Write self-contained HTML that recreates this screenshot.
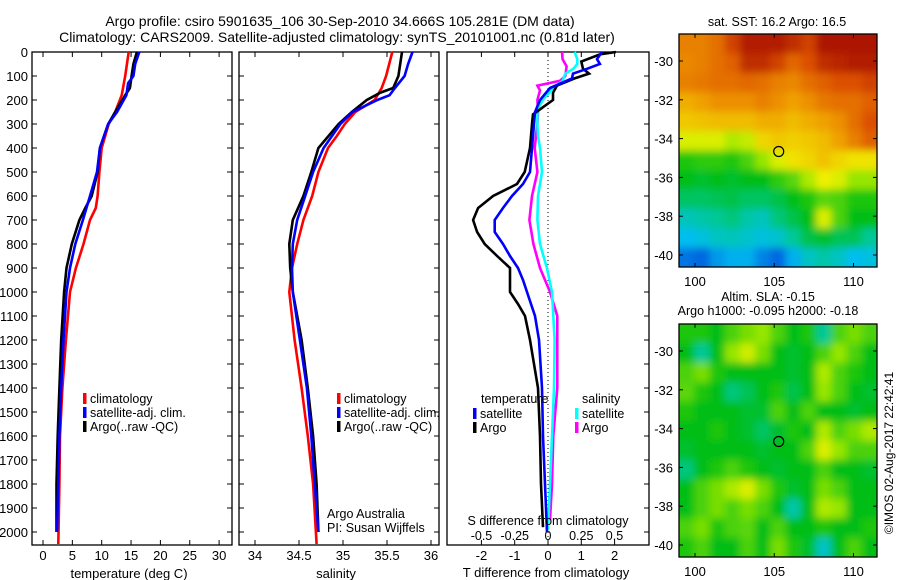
<!DOCTYPE html>
<html><head><meta charset="utf-8"><style>
html,body{margin:0;padding:0;background:#fff}
svg{display:block;font-family:"Liberation Sans",sans-serif}
text{fill:#000}
</style></head><body>
<svg id="chart" width="900" height="580" viewBox="0 0 900 580">
<text x="340" y="26" font-size="14" text-anchor="middle">Argo profile: csiro 5901635_106 30-Sep-2010 34.666S 105.281E (DM data)</text>
<text x="337" y="42" font-size="14" text-anchor="middle">Climatology: CARS2009. Satellite-adjusted climatology: synTS_20101001.nc (0.81d later)</text>
<g id="g1"></g>
<g id="g2"></g>
<g id="g3"></g>
<g id="g4"></g>
<g id="g5"></g>
<text x="12" y="0" font-size="12" transform="translate(893,465) rotate(-90)" text-anchor="middle">©IMOS 02-Aug-2017 22:42:41</text>
</svg>
<script>
// ---------- data ----------
const depthTicks=[0,100,200,300,400,500,600,700,800,900,1000,1100,1200,1300,1400,1500,1600,1700,1800,1900,2000];
const tempTicks=[0,5,10,15,20,25,30];
const salTicks=[34,34.5,35,35.5,36];
const tdiffTicks=[-2,-1,0,1,2];
const sdiffTicks=[-0.5,-0.25,0,0.25,0.5];
const sdiffLabels=["-0.5","-0.25","0","0.25","0.5"];
const tClimDepth=[0,100,180,250,300,400,500,600,650,700,800,900,1000,1200,1400,1600,1800,2050];
const tClim=[14.6,14.0,13.4,12.3,11.2,10.0,9.6,9.3,9.0,8.0,6.9,5.6,4.6,3.9,3.3,2.9,2.8,2.6];
const tSatDepth=[0,50,100,130,180,250,300,350,400,500,600,700,800,900,1000,1200,1400,1600,1800,2000];
const tSat=[16.4,15.7,15.4,14.5,14.2,12.6,11.1,10.4,9.7,9.2,8.0,6.8,5.5,4.6,4.0,3.5,3.1,2.8,2.6,2.4];
const tArgoDepth=[0,50,100,150,180,250,300,400,500,600,650,700,800,900,1000,1200,1400,1600,1800,2000];
const tArgo=[16.0,15.4,15.1,14.8,14.0,12.3,11.1,9.7,9.3,8.3,7.2,6.2,4.9,4.0,3.6,3.1,2.8,2.5,2.3,2.3];
const sClimDepth=[0,100,150,200,250,300,350,400,500,600,700,800,900,1000,1200,1400,1600,1800,2050];
const sClim=[35.56,35.49,35.44,35.36,35.14,35.02,34.93,34.83,34.72,34.65,34.55,34.48,34.42,34.39,34.45,34.53,34.60,34.66,34.70];
const sSatDepth=[0,50,100,150,180,200,250,300,400,500,600,700,800,900,1000,1200,1400,1600,1800,2000];
const sSat=[35.79,35.74,35.70,35.59,35.53,35.39,35.11,34.97,34.78,34.66,34.57,34.48,34.43,34.42,34.43,34.51,34.59,34.64,34.68,34.72];
const sArgoDepth=[0,100,150,170,200,250,300,400,500,600,700,800,900,1000,1200,1400,1600,1800,2000];
const sArgo=[35.67,35.63,35.57,35.42,35.27,35.10,34.95,34.72,34.64,34.55,34.43,34.39,34.40,34.43,34.53,34.60,34.66,34.70,34.72];
const dTArgoDepth=[0,10,40,70,90,110,140,170,200,230,260,300,400,500,550,600,650,700,750,800,850,900,1000,1050,1100,1200,1300,1400,1600,1800,1980];
const dTArgo=[2.04,1.56,1.0,1.05,1.23,0.8,0.27,0.15,0.15,-0.15,-0.45,-0.48,-0.54,-0.7,-0.93,-1.65,-2.1,-2.25,-2.13,-1.9,-1.53,-1.14,-1.14,-0.9,-0.69,-0.54,-0.42,-0.3,-0.24,-0.21,-0.15];
const dTSatDepth=[0,30,50,70,90,110,150,200,250,350,500,550,600,650,700,750,800,850,900,950,1000,1100,1200,1400,1600,1800,2000];
const dTSat=[1.62,1.47,1.56,1.17,0.75,0.72,0.06,-0.24,-0.39,-0.45,-0.54,-0.75,-1.08,-1.35,-1.6,-1.6,-1.35,-1.14,-0.9,-0.75,-0.63,-0.39,-0.27,-0.18,-0.15,-0.09,-0.03];
const dSArgoDepth=[0,30,60,100,120,140,160,200,250,300,350,400,500,600,700,800,900,1000,1100,1200,1400,1600,1800,1950];
const dSArgo=[0.105,0.11,0.14,0.13,0.09,-0.08,-0.06,-0.08,-0.075,-0.08,-0.09,-0.1,-0.08,-0.12,-0.14,-0.11,-0.06,0.015,0.07,0.07,0.07,0.04,0.03,0.015];
const dSSatDepth=[0,30,50,70,90,120,150,200,240,300,350,400,500,600,700,800,900,1000,1200,1400,1600,1800,1990];
const dSSat=[0.2,0.22,0.22,0.19,0.13,0.11,0.04,-0.04,-0.08,-0.08,-0.075,-0.06,-0.045,-0.075,-0.08,-0.06,-0.008,0.03,0.05,0.045,0.03,0.015,0];
const mapLonTicks=[100,105,110];
const mapLatTicks=[-30,-32,-34,-36,-38,-40];
const sstGrid=[
[0.84,0.84,0.86,0.92,0.97,0.97,0.97,0.95,0.92,0.98,0.98,0.98,0.98],
[0.83,0.84,0.86,0.88,0.95,0.95,0.92,0.87,0.9,0.95,0.96,0.97,0.97],
[0.84,0.85,0.86,0.86,0.87,0.86,0.84,0.83,0.86,0.88,0.9,0.9,0.92],
[0.78,0.8,0.82,0.82,0.82,0.84,0.82,0.8,0.82,0.85,0.86,0.86,0.88],
[0.74,0.75,0.76,0.76,0.76,0.78,0.78,0.76,0.78,0.8,0.82,0.86,0.9],
[0.66,0.66,0.66,0.62,0.64,0.72,0.74,0.73,0.74,0.76,0.8,0.84,0.88],
[0.52,0.53,0.53,0.52,0.55,0.6,0.66,0.7,0.72,0.75,0.72,0.7,0.7],
[0.5,0.48,0.5,0.48,0.5,0.5,0.53,0.56,0.62,0.68,0.66,0.6,0.6],
[0.44,0.44,0.45,0.46,0.44,0.44,0.46,0.5,0.52,0.56,0.55,0.52,0.52],
[0.36,0.38,0.4,0.42,0.38,0.36,0.42,0.46,0.5,0.66,0.55,0.5,0.5],
[0.3,0.32,0.35,0.36,0.34,0.32,0.34,0.4,0.46,0.48,0.45,0.45,0.4],
[0.2,0.18,0.25,0.28,0.28,0.22,0.18,0.28,0.35,0.38,0.35,0.3,0.32]];
const slaGrid=[
[.52,.52,.5,.55,.58,.6,.55,.5,.52,.4,.55,.58,.55],
[.5,.4,.5,.6,.65,.58,.5,.48,.5,.55,.6,.55,.5],
[.55,.58,.52,.5,.5,.5,.5,.48,.5,.62,.55,.52,.5],
[.56,.52,.5,.42,.45,.5,.52,.46,.5,.6,.55,.5,.48],
[.52,.5,.5,.5,.48,.48,.55,.5,.55,.5,.5,.48,.5],
[.5,.5,.52,.5,.48,.44,.48,.52,.5,.62,.55,.58,.62],
[.48,.5,.5,.5,.5,.48,.5,.5,.55,.66,.6,.55,.55],
[.42,.5,.52,.55,.52,.5,.48,.5,.5,.55,.5,.5,.48],
[.5,.55,.58,.62,.66,.58,.52,.48,.5,.58,.55,.5,.5],
[.5,.55,.58,.55,.58,.55,.5,.38,.5,.62,.6,.5,.5],
[.55,.58,.52,.55,.56,.5,.55,.5,.5,.52,.5,.5,.52],
[.52,.55,.5,.5,.55,.5,.58,.52,.48,.35,.5,.55,.5]];
const argoLon=105.281, argoLat=-34.666;

// ---------- helpers ----------
const NS="http://www.w3.org/2000/svg";
function mk(parent,tag,attrs){const e=document.createElementNS(NS,tag);for(const k in attrs)e.setAttribute(k,attrs[k]);parent.appendChild(e);return e;}
function txt(parent,x,y,s,size,anchor){const t=mk(parent,'text',{x:x,y:y,'font-size':size,'text-anchor':anchor||'middle'});t.textContent=s;return t;}
const Y=d=>52+0.24*d;
const TOP=52,BOT=545;
function box(g,x0,x1,y0,y1){const r=mk(g,'rect',{x:x0,y:y0,width:x1-x0,height:y1-y0,fill:'none',stroke:'#000','stroke-width':1.3});}
function line(g,xs,ds,xf,col,name){const p=mk(g,'polyline',{points:xs.map((v,i)=>xf(v).toFixed(1)+','+Y(ds[i]).toFixed(1)).join(' '),fill:'none',stroke:col,'stroke-width':2.6,'stroke-linejoin':'miter'});}
function tick(g,x1,y1,x2,y2){mk(g,'line',{x1:x1,y1:y1,x2:x2,y2:y2,stroke:'#000','stroke-width':1});}
function depthTicks_(g,x0,x1,labels){depthTicks.forEach(d=>{tick(g,x0,Y(d),x0+5,Y(d));tick(g,x1,Y(d),x1-5,Y(d));if(labels){const t=txt(g,x0-4,Y(d)+5,String(d),13,'end');}});}
function legendEntry(g,x,y,col,label,name){mk(g,'rect',{x:x,y:y-9,width:3.5,height:11,fill:col});const t=txt(g,x+7,y+1,label,12.5,'start');}

// ---------- panel 1: temperature ----------
const g1=document.getElementById('g1');
const xT=v=>43+5.87*v;
box(g1,32,232,TOP,BOT);depthTicks_(g1,32,232,true);
tempTicks.forEach(v=>{tick(g1,xT(v),TOP,xT(v),TOP+5);tick(g1,xT(v),BOT,xT(v),BOT-5);const t=txt(g1,xT(v),560,String(v),13);});
{const t=txt(g1,129,578,'temperature (deg C)',13);}
line(g1,tClim,tClimDepth,xT,'#f00','temp-climatology-line');
line(g1,tArgo,tArgoDepth,xT,'#000','temp-argo-line');
line(g1,tSat,tSatDepth,xT,'#00f','temp-satellite-line');
legendEntry(g1,83,402,'#f00','climatology','legend-climatology');
legendEntry(g1,83,416,'#00f','satellite-adj. clim.','legend-satellite');
legendEntry(g1,83,430,'#000','Argo(..raw -QC)','legend-argo');

// ---------- panel 2: salinity ----------
const g2=document.getElementById('g2');
const xS=v=>255+88*(v-34);
box(g2,239,439,TOP,BOT);depthTicks_(g2,239,439,false);
salTicks.forEach(v=>{tick(g2,xS(v),TOP,xS(v),TOP+5);tick(g2,xS(v),BOT,xS(v),BOT-5);const t=txt(g2,xS(v),560,String(v),13);});
{const t=txt(g2,336,578,'salinity',13);}
line(g2,sClim,sClimDepth,xS,'#f00','sal-climatology-line');
line(g2,sArgo,sArgoDepth,xS,'#000','sal-argo-line');
line(g2,sSat,sSatDepth,xS,'#00f','sal-satellite-line');
legendEntry(g2,337,402,'#f00','climatology','legend-climatology');
legendEntry(g2,337,416,'#00f','satellite-adj. clim.','legend-satellite');
legendEntry(g2,337,430,'#000','Argo(..raw -QC)','legend-argo');
{const t=txt(g2,327,518,'Argo Australia',12.5,'start');
const t2=txt(g2,327,532,'PI: Susan Wijffels',12.5,'start');}

// ---------- panel 3: differences ----------
const g3=document.getElementById('g3');
const xD=v=>548+33.3*v;
const xDS=v=>548+133*v;
box(g3,447,649,TOP,BOT);
depthTicks.forEach(d=>{tick(g3,649,Y(d),644,Y(d));});
mk(g3,'line',{x1:548,y1:TOP,x2:548,y2:540,stroke:'#000','stroke-width':1,'stroke-dasharray':'1,3'});
tdiffTicks.forEach(v=>{tick(g3,xD(v),TOP,xD(v),TOP+5);tick(g3,xD(v),BOT,xD(v),BOT-5);const t=txt(g3,xD(v),560,String(v),13);});
sdiffTicks.forEach((v,i)=>{const t=txt(g3,xDS(v),540,sdiffLabels[i],12.5);});
line(g3,dSArgo,dSArgoDepth,xDS,'#f0f','sdiff-argo-line');
line(g3,dSSat,dSSatDepth,xDS,'#0ff','sdiff-satellite-line');
line(g3,dTArgo,dTArgoDepth,xD,'#000','tdiff-argo-line');
line(g3,dTSat,dTSatDepth,xD,'#00f','tdiff-satellite-line');
{const t=txt(g3,481,403,'temperature',12.5,'start');
const t2=txt(g3,582,403,'salinity',12.5,'start');}
legendEntry(g3,473,417,'#00f','satellite','legend-t-satellite');
legendEntry(g3,473,431,'#000','Argo','legend-t-argo');
legendEntry(g3,575,417,'#0ff','satellite','legend-s-satellite');
legendEntry(g3,575,431,'#f0f','Argo','legend-s-argo');
{const t=txt(g3,548,525,'S difference from climatology',12.5);
const t2=txt(g3,546,577,'T difference from climatology',13);}

// ---------- maps ----------
const stops=[[0,[0,20,140]],[0.15,[0,80,220]],[0.3,[0,190,240]],[0.4,[0,200,150]],[0.5,[0,190,20]],[0.6,[150,230,0]],[0.68,[240,240,0]],[0.8,[240,160,0]],[0.9,[220,80,0]],[1,[160,10,0]]];
function cmap(v){for(let i=1;i<stops.length;i++){if(v<=stops[i][0]){const a=stops[i-1],b=stops[i],f=(v-a[0])/(b[0]-a[0]);return 'rgb('+a[1].map((c,k)=>Math.round(c+(b[1][k]-c)*f)).join(',')+')';}}return 'rgb(160,10,0)';}
function drawMap(g,grid,y0,id){
  const x0=679,x1=877,y1=y0+233;
  const xL=lon=>695+15.85*(lon-100);
  const yL=lat=>y0+27+19.4*(-30-lat);
  const defs=mk(g,'defs',{});
  const cp=mk(defs,'clipPath',{id:'clip'+id});mk(cp,'rect',{x:x0,y:y0,width:x1-x0,height:y1-y0});
  const f=mk(defs,'filter',{id:'blur'+id,x:'-5%',y:'-5%',width:'110%',height:'110%'});mk(f,'feGaussianBlur',{stdDeviation:4});
  const cells=mk(g,'g',{'clip-path':'url(#clip'+id+')'});
  const inner=mk(cells,'g',{filter:'url(#blur'+id+')'});
  const nr=grid.length,nc=grid[0].length,cw=(x1-x0)/nc,ch=(y1-y0)/nr;
  grid.forEach((row,r)=>row.forEach((v,c)=>{
    const rc=mk(inner,'rect',{x:(x0+c*cw-(c==0?10:0)).toFixed(1),y:(y0+r*ch-(r==0?10:0)).toFixed(1),width:(cw+1+(c==0||c==nc-1?10:0)).toFixed(1),height:(ch+1+(r==0||r==nr-1?10:0)).toFixed(1),fill:cmap(v)});
    
    
  }));
  box(g,x0,x1,y0,y1);
  mapLonTicks.forEach(l=>{tick(g,xL(l),y0,xL(l),y0+4);tick(g,xL(l),y1,xL(l),y1-4);const t=txt(g,xL(l),y1+19,String(l),13);});
  mapLatTicks.forEach(l=>{tick(g,x0,yL(l),x0+4,yL(l));tick(g,x1,yL(l),x1-4,yL(l));const t=txt(g,x0-6,yL(l)+5,String(l),13,'end');});
  const c=mk(g,'circle',{cx:xL(argoLon),cy:yL(argoLat),r:5,fill:'none',stroke:'#000','stroke-width':1.2});
  
  
}
const g4=document.getElementById('g4');
drawMap(g4,sstGrid,34,'a');
{const t=txt(g4,777,26,'sat. SST: 16.2 Argo: 16.5',12.5);}
const g5=document.getElementById('g5');
drawMap(g5,slaGrid,324,'b');
{const t=txt(g5,768,301,'Altim. SLA: -0.15',12.5);
const t2=txt(g5,768,315,'Argo h1000: -0.095 h2000: -0.18',12.5);}
</script>
</body></html>
